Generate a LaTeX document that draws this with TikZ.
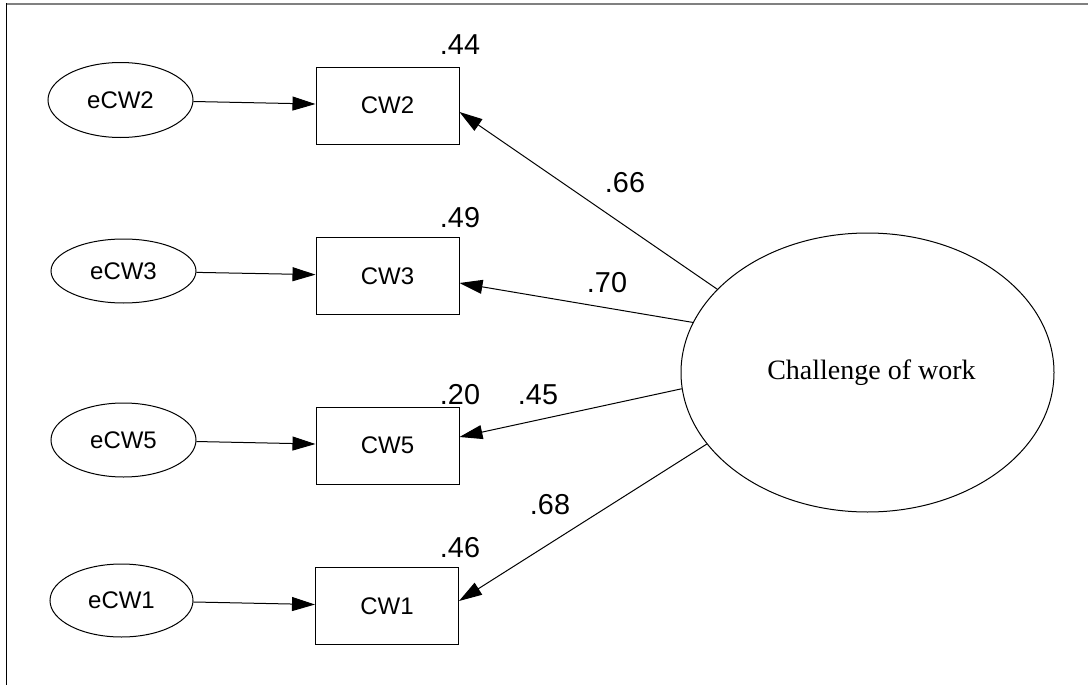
\documentclass[tikz,border=0pt]{standalone}
\usepackage{fontspec}
\setmainfont{Liberation Sans}
\newfontfamily\serifface{Liberation Serif}
\usetikzlibrary{arrows.meta,shapes.geometric,calc}

\tikzset{
  errvar/.style={draw, ellipse, line width=0.5pt, inner sep=0pt,
    font=\fontsize{12}{14}\selectfont},
  observed/.style={draw, rectangle, line width=0.5pt, inner sep=0pt,
    minimum width=71.5pt, minimum height=38.5pt,
    font=\fontsize{12}{14}\selectfont},
  latent/.style={draw, ellipse, line width=0.5pt, inner sep=0pt,
    minimum width=186.5pt, minimum height=139.5pt,
    font=\serifface\fontsize{14}{16}\selectfont},
  coef/.style={inner sep=0pt, font=\fontsize{14.4}{17}\selectfont},
  path/.style={line width=0.5pt, -{Triangle[length=11.5pt, width=7pt]}}
}

\begin{document}
\begin{tikzpicture}[x=0.5pt, y=-0.5pt]
  \useasboundingbox (0,0) rectangle (1088,685);

  % frame lines
  \draw[line width=1pt, gray] (6,3.5) -- (1088,3.5);
  \draw[line width=0.5pt, black] (6.5,3) -- (6.5,685);

  % error terms
  \node[errvar, minimum width=72.5pt, minimum height=37.5pt] (e2) at (120.5,100) {eCW2};
  \node[errvar, minimum width=72.5pt, minimum height=32pt]   (e3) at (123.5,271) {eCW3};
  \node[errvar, minimum width=72.5pt, minimum height=37pt]   (e5) at (123.5,440) {eCW5};
  \node[errvar, minimum width=71.5pt, minimum height=36.5pt] (e1) at (121.5,600.5) {eCW1};

  % indicators
  \node[observed] (cw2) at (387.5,105.5) {CW2};
  \node[observed] (cw3) at (387.5,276) {CW3};
  \node[observed] (cw5) at (387.5,445.5) {CW5};
  \node[observed] (cw1) at (387,606) {CW1};

  % latent factor
  \node[latent] (ch) at (867.5,372.5) {\hspace*{4pt}Challenge of work};

  % entry points of the loading arrows on the indicator boxes
  \coordinate (t2) at ($(cw2.east)+(0,6.5)$);
  \coordinate (t3) at ($(cw3.east)+(0,7)$);
  \coordinate (t5) at ($(cw5.east)+(0,-8.5)$);
  \coordinate (t1) at ($(cw1.east)+(0,-5)$);

  % error paths
  \draw[path] (e2) -- (cw2);
  \draw[path] (e3) -- (cw3);
  \draw[path] (e5) -- (cw5);
  \draw[path] (e1) -- (cw1);

  % loadings
  \draw[path] (ch.151.3) -- (t2);
  \draw[path] (ch.164.1) -- (t3);
  \draw[path] (ch.185.4) -- (t5);
  \draw[path] (ch.204.2) -- (t1);

  % squared multiple correlations
  \node[coef] (r2) at (460,45) {.44};
  \node[coef] (r3) at (460,218) {.49};
  \node[coef] (r5) at (460,395) {.20};
  \node[coef] (r1) at (460,548) {.46};

  % standardized loadings
  \node[coef] (l2) at (625,183) {.66};
  \node[coef] (l3) at (607,283) {.70};
  \node[coef] (l5) at (538,395) {.45};
  \node[coef] (l1) at (550,505) {.68};
\end{tikzpicture}
\end{document}
